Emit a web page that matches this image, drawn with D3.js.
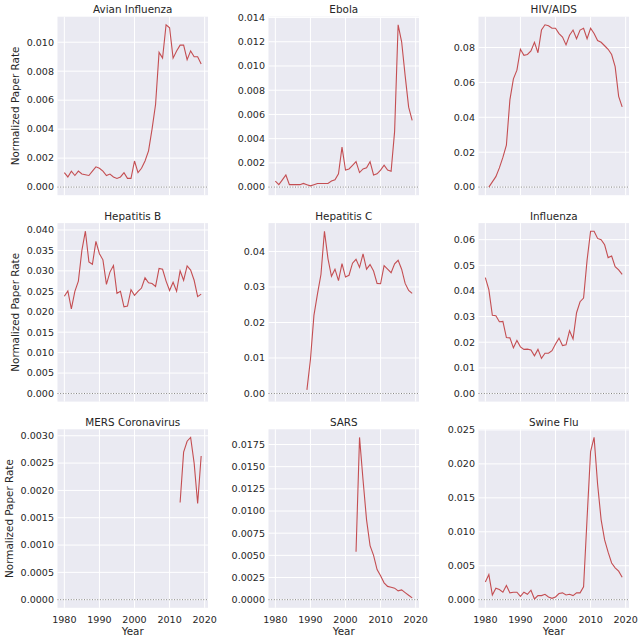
<!DOCTYPE html>
<html><head><meta charset="utf-8">
<script src="https://cdn.jsdelivr.net/npm/d3@7"></script>
<style>
body{margin:0;background:#fff}
text{font-family:"DejaVu Sans",sans-serif;fill:#262626}
</style>
</head><body><svg id="c" width="642" height="640"></svg>
<script>
const years = [1980,1981,1982,1983,1984,1985,1986,1987,1988,1989,
  1990,1991,1992,1993,1994,1995,1996,1997,1998,1999,
  2000,2001,2002,2003,2004,2005,2006,2007,2008,2009,
  2010,2011,2012,2013,2014,2015,2016,2017,2018,2019];

const titles = ["Avian Influenza","Ebola","HIV/AIDS","Hepatitis B","Hepatitis C","Influenza","MERS Coronavirus","SARS","Swine Flu"];

const avian = [0.0010,0.0007,0.0011,0.0008,0.0011,0.0009,0.00085,0.0008,0.0011,0.0014,
  0.0013,0.0011,0.0008,0.0009,0.0007,0.0006,0.0007,0.0010,0.0006,0.0006,
  0.0018,0.0010,0.0013,0.0018,0.0025,0.0040,0.0057,0.0093,0.0089,0.0112,
  0.0110,0.0089,0.0094,0.0098,0.0098,0.0088,0.0094,0.0090,0.0090,0.0085];
const ebola = [0.0005,0.0002,0.0006,0.0010,0.0002,0.0002,0.0002,0.0002,0.0003,0.0002,
  0.0001,0.0002,0.0003,0.0003,0.0003,0.0003,0.0005,0.0006,0.0011,0.0033,
  0.0014,0.0015,0.0018,0.0021,0.0012,0.0015,0.0016,0.0021,0.0010,0.0011,
  0.0014,0.0018,0.0014,0.0013,0.0046,0.0134,0.0120,0.0092,0.0066,0.0055];
const hiv = [null,0.000,0.003,0.006,0.011,0.017,0.024,0.050,0.062,0.067,
  0.079,0.0755,0.076,0.078,0.083,0.077,0.090,0.093,0.0925,0.091,
  0.091,0.088,0.086,0.0815,0.087,0.090,0.085,0.090,0.091,0.085,
  0.091,0.088,0.084,0.083,0.081,0.079,0.076,0.069,0.052,0.046];
const hepB = [0.0238,0.0251,0.0207,0.0250,0.0275,0.0350,0.0397,0.0322,0.0316,0.0372,
  0.0342,0.0327,0.0267,0.0297,0.0313,0.0245,0.0250,0.0212,0.0214,0.0254,
  0.0240,0.0250,0.0258,0.0283,0.0271,0.0269,0.0262,0.0306,0.0304,0.0275,
  0.0252,0.0272,0.0250,0.0300,0.0277,0.0312,0.0302,0.0277,0.0237,0.0243];
const hepC = [null,null,null,null,null,null,null,null,null,0.0010,
  0.0095,0.0220,0.0280,0.0335,0.0457,0.0380,0.0330,0.0350,0.0318,0.0366,
  0.0328,0.0333,0.0367,0.0378,0.0355,0.0393,0.0350,0.0363,0.0345,0.0310,
  0.0309,0.0360,0.0350,0.0340,0.0365,0.0375,0.0350,0.0310,0.0290,0.0282];
const influenza = [0.0452,0.0405,0.0305,0.0303,0.0280,0.0281,0.0218,0.0217,0.0178,0.0207,
  0.0182,0.0172,0.0173,0.0170,0.0147,0.0172,0.0137,0.0157,0.0157,0.0167,
  0.0193,0.0216,0.0187,0.0190,0.0245,0.0213,0.0315,0.0358,0.0372,0.0520,
  0.0633,0.0633,0.0605,0.0600,0.0580,0.0530,0.0536,0.0495,0.0482,0.0465];
const mers = [null,null,null,null,null,null,null,null,null,null,
  null,null,null,null,null,null,null,null,null,null,
  null,null,null,null,null,null,null,null,null,null,
  null,null,null,0.00178,0.0027,0.0029,0.00297,0.0025,0.00176,0.00263];
const sars = [null,null,null,null,null,null,null,null,null,null,
  null,null,null,null,null,null,null,null,null,null,
  null,null,null,0.0054,0.0183,0.0135,0.0090,0.0061,0.0050,0.0034,
  0.0027,0.0019,0.0015,0.0014,0.0013,0.0010,0.0011,0.0008,0.0005,0.0002];
const swine = [0.0026,0.0037,0.0007,0.0017,0.0015,0.0011,0.0021,0.0010,0.0011,0.0011,
  0.0005,0.0011,0.0008,0.0014,0.0001,0.0006,0.0006,0.0008,0.0004,0.0002,
  0.0004,0.0009,0.0010,0.0007,0.0008,0.0006,0.0010,0.0010,0.0019,0.0120,
  0.0218,0.0239,0.0170,0.0118,0.0088,0.0070,0.0054,0.0047,0.0042,0.0033];

const avianTicks = [0,0.002,0.004,0.006,0.008,0.010];
const ebolaTicks = [0,0.002,0.004,0.006,0.008,0.010,0.012,0.014];
const hivTicks = [0,0.02,0.04,0.06,0.08];
const hepBTicks = [0,0.005,0.010,0.015,0.020,0.025,0.030,0.035,0.040];
const hepCTicks = [0,0.01,0.02,0.03,0.04];
const influenzaTicks = [0,0.01,0.02,0.03,0.04,0.05,0.06];
const mersTicks = [0,0.0005,0.0010,0.0015,0.0020,0.0025,0.0030];
const sarsTicks = [0,0.0025,0.0050,0.0075,0.0100,0.0125,0.0150,0.0175];
const swineTicks = [0,0.005,0.010,0.015,0.020,0.025];
const tickDecimals = [3,3,2,3,2,2,4,4,3];
const xTicks = [1980,1990,2000,2010,2020];

const seriesList = [avian,ebola,hiv,hepB,hepC,influenza,mers,sars,swine];
const tickList = [avianTicks,ebolaTicks,hivTicks,hepBTicks,hepCTicks,influenzaTicks,mersTicks,sarsTicks,swineTicks];

const svg = d3.select("#c");
const colX = [57.5, 268.5, 478.5];
const rowY = [16.7, 223.1, 429.3];
const W = 150.5, H = 178.5;
const tickFs = 9.55, labFs = 10.4;

const xMin = d3.min(years), xMax = d3.max(years);
const xPad = 0.05*(xMax-xMin);

titles.forEach((t,i)=>{
  const r = Math.floor(i/3), c = i%3;
  const g = svg.append("g").attr("transform",`translate(${colX[c]},${rowY[r]})`);
  const vals = seriesList[i];
  const defined = vals.filter(v=>v!==null);
  const lo = Math.min(0,d3.min(defined)), hi = d3.max(defined);
  const pad = 0.05*(hi-lo);
  const x = d3.scaleLinear().domain([xMin-xPad,xMax+xPad]).range([0,W]);
  const y = d3.scaleLinear().domain([lo-pad,hi+pad]).range([H,0]);

  g.append("rect").attr("width",W).attr("height",H).attr("fill","#EAEAF2");
  g.selectAll(".gx").data(xTicks).enter().append("line")
    .attr("x1",d=>x(d)).attr("x2",d=>x(d)).attr("y1",0).attr("y2",H)
    .attr("stroke","#fff").attr("stroke-width",1);
  g.selectAll(".gy").data(tickList[i]).enter().append("line")
    .attr("x1",0).attr("x2",W).attr("y1",d=>y(d)).attr("y2",d=>y(d))
    .attr("stroke","#fff").attr("stroke-width",1);
  const fmt = d3.format("."+tickDecimals[i]+"f");
  const tl = g.selectAll(".ty").data(tickList[i]).enter().append("text")
    .attr("x",-3.5).attr("y",d=>y(d)).attr("dy","0.35em")
    .attr("text-anchor","end").attr("font-size",tickFs).text(d=>fmt(d));
  let maxW = 0;
  tl.each(function(){ maxW = Math.max(maxW, this.getComputedTextLength()); });
  g.append("line").attr("x1",0).attr("x2",W).attr("y1",y(0)).attr("y2",y(0))
    .attr("stroke","#808080").attr("stroke-width",1).attr("stroke-dasharray","1,1.65");
  const line = d3.line().defined(d=>d[1]!==null).x(d=>x(d[0])).y(d=>y(d[1]));
  g.append("path").datum(years.map((yr,k)=>[yr,vals[k]]))
    .attr("d",line).attr("fill","none").attr("stroke","#C44E52").attr("stroke-width",1.1);
  g.append("text").attr("x",W/2).attr("y",-3.6).attr("text-anchor","middle")
    .attr("font-size",labFs).text(t);
  if(c===0){
    const lx = -(3.5 + maxW + 11);
    g.append("text").attr("transform",`translate(${lx},${H/2}) rotate(-90)`)
      .attr("text-anchor","middle").attr("dy","0.35em").attr("font-size",labFs)
      .text("Normalized Paper Rate");
  }
  if(r===2){
    g.selectAll(".tx").data(xTicks).enter().append("text")
      .attr("x",d=>x(d)).attr("y",H+15).attr("text-anchor","middle")
      .attr("font-size",tickFs).text(d=>d);
    g.append("text").attr("x",W/2).attr("y",H+27.2).attr("text-anchor","middle")
      .attr("font-size",labFs).text("Year");
  }
});
</script>
</body></html>
